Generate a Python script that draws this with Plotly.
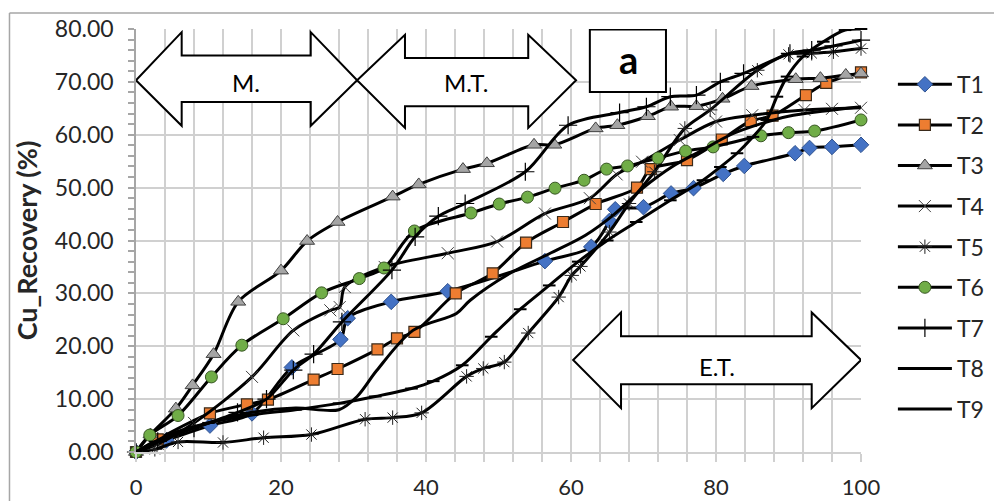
import plotly.graph_objects as go

# ---------------- data ----------------
T1_x = [0, 4.2, 10.2, 16, 21.5, 28.2, 29.2, 35.2, 43, 56.4, 62.8, 65.3, 66.1, 70, 73.8, 76.9, 81, 83.9, 90.9, 92.9, 96, 100]
T1_y = [0, 2.2, 5.0, 7.3, 16.0, 21.3, 25.3, 28.4, 30.4, 36.1, 38.8, 43.7, 45.9, 46.3, 48.9, 49.9, 52.6, 54.1, 56.5, 57.5, 57.7, 58.1]

T2_x = [0, 3, 10.2, 15.3, 18.2, 24.5, 27.8, 33.3, 36, 38.4, 44.1, 49.2, 53.8, 58.9, 63.4, 69.1, 71, 76, 80.8, 84.8, 87.8, 92.4, 95.2, 100]
T2_y = [0, 2.4, 7.3, 9.0, 9.9, 13.7, 15.7, 19.4, 21.5, 22.7, 30.0, 33.8, 39.6, 43.5, 46.9, 50.0, 53.5, 55.2, 59.1, 62.6, 63.6, 67.5, 69.8, 71.8]

T3_x = [0, 2, 5.5, 7.8, 10.7, 14.1, 20, 23.6, 27.8, 35.4, 39, 45.1, 48.4, 54.9, 57.7, 63.4, 66.4, 70.6, 73.8, 77.3, 80.9, 84.9, 91, 94.4, 97.9, 100]
T3_y = [0, 3.3, 8.2, 12.6, 18.5, 28.4, 34.3, 39.9, 43.5, 48.3, 50.6, 53.5, 54.6, 58.1, 58.1, 61.2, 61.8, 63.5, 65.3, 65.4, 66.8, 69.2, 70.5, 70.7, 71.3, 71.6]

T4_x = [0, 3, 8, 16, 21.7, 26.8, 28.1, 28.8, 34.3, 43, 49.8, 56.4, 62.6, 66.3, 69.8, 75, 80, 85, 92.2, 96, 100]
T4_y = [0, 1.5, 5.5, 14.2, 23, 26.8, 27.4, 31.2, 35, 37.6, 39.8, 45.1, 48, 52.5, 54.9, 59, 62.5, 63.7, 64.7, 64.9, 65.1]

T5_x = [0, 2.6, 5.8, 12, 17.6, 24.2, 31.6, 35.4, 39.4, 45.6, 47.9, 50.8, 54.1, 58.3, 60.1, 61.3, 65.3, 68, 71.5, 75.7, 79.2, 85.7, 90, 93.2, 96.2, 100]
T5_y = [0, 0.5, 1.9, 1.8, 2.7, 3.3, 6.2, 6.5, 7.4, 14.3, 15.8, 17, 22.5, 29.3, 33.4, 35.1, 41.6, 47, 53, 61.2, 64.7, 72.2, 75.2, 75.4, 75.7, 76.3]

T6_x = [0, 1.9, 5.8, 10.4, 14.6, 20.3, 25.6, 30.8, 34.2, 38.4, 46.2, 50.1, 54, 57.8, 61.8, 64.9, 67.8, 72, 75.8, 79.6, 86.2, 90, 93.6, 100]
T6_y = [0, 3.2, 6.9, 14.2, 20.2, 25.2, 30.1, 32.8, 34.8, 41.8, 45.2, 46.9, 48.2, 49.9, 51.4, 53.5, 54.1, 55.6, 56.9, 57.7, 59.8, 60.4, 60.7, 62.8]

T7_x = [0, 3, 8, 14, 18, 21.7, 24.5, 28.4, 35.3, 38.5, 41.7, 45.4, 53.7, 59.6, 66.7, 70.4, 73.7, 77.3, 80.6, 83.8, 90.2, 93.2, 96.2, 100]
T7_y = [0, 2, 4.5, 7.5, 10, 15.5, 18.5, 24.6, 34.4, 40.7, 44.6, 47, 53, 61.8, 64.2, 65.3, 67.2, 67.5, 70, 71.6, 75.4, 76, 76.8, 77.9]

T8_x = [0, 5, 10, 16, 22, 28, 33, 38, 41, 45, 49, 53, 57, 61, 65, 69, 73.7, 78.2, 80.6, 82.9, 85.1, 87, 88.4, 89.8, 92, 94.8, 97.8, 100]
T8_y = [0, 3.5, 5.5, 7, 8, 9.2, 10.5, 12, 13.4, 16.4, 21.8, 27, 31.5, 36, 40, 43.5, 47.6, 51.4, 53.9, 56.5, 59.6, 62.8, 67.2, 71, 74.8, 77.6, 79.8, 80]

T9_x = [0, 4, 10, 16, 22, 28, 30.5, 33.2, 38.2, 44.2, 46.1, 51.6, 57, 62, 66, 70, 74, 78, 82, 86, 90, 95, 100]
T9_y = [0, 2.5, 5.5, 7.5, 8.3, 8.0, 10.5, 15.4, 23, 26.2, 28.7, 33.8, 37.5, 41, 45, 50, 54, 57, 60, 62, 63.5, 64.5, 65.3]

series_names = ["T1", "T2", "T3", "T4", "T5", "T6", "T7", "T8", "T9"]
x_ticks = [0, 20, 40, 60, 80, 100]
y_ticks = [0, 10, 20, 30, 40, 50, 60, 70, 80]

# ---------------- styles ----------------
FONT = "Lato, 'Liberation Sans', sans-serif"
styles = {
    "T1": dict(symbol="diamond", size=12, color="#4472C4", line=dict(color="#2F528F", width=1)),
    "T2": dict(symbol="square", size=11, color="#ED7D31", line=dict(color="#3A2A1A", width=1.2)),
    "T3": dict(symbol="triangle-up", size=13, color="#A5A5A5", line=dict(color="#404040", width=1)),
    "T4": dict(symbol="x-thin-open", size=12, color="#404040", line=dict(color="#404040", width=1)),
    "T5": dict(symbol="asterisk-open", size=12, color="#202020", line=dict(color="#202020", width=1)),
    "T6": dict(symbol="circle", size=12, color="#70AD47", line=dict(color="#385723", width=1)),
    "T7": dict(symbol="cross-thin-open", size=13, color="#000000", line=dict(color="#000000", width=1.2)),
    "T8": dict(symbol="line-ew-open", size=9, color="#000000", line=dict(color="#000000", width=2)),
    "T9": None,
}

data = {
    "T1": (T1_x, T1_y), "T2": (T2_x, T2_y), "T3": (T3_x, T3_y),
    "T4": (T4_x, T4_y), "T5": (T5_x, T5_y), "T6": (T6_x, T6_y),
    "T7": (T7_x, T7_y), "T8": (T8_x, T8_y), "T9": (T9_x, T9_y),
}

fig = go.Figure()
for name in series_names:
    xs, ys = data[name]
    m = styles[name]
    fig.add_trace(go.Scatter(
        x=xs, y=ys, name=name, legendgroup=name,
        mode="lines+markers" if m else "lines",
        line=dict(color="black", width=3, shape="spline", smoothing=0.9),
        marker=m if m else None,
        cliponaxis=False,
    ))

# ---------------- region arrows ----------------
def dbl_arrow(x0, x1, xb0, xb1, yc, shaft_top, shaft_bot, head_top, head_bot):
    return (f"M {x0},{yc} L {xb0},{head_top} L {xb0},{shaft_top} L {xb1},{shaft_top} "
            f"L {xb1},{head_top} L {x1},{yc} L {xb1},{head_bot} L {xb1},{shaft_bot} "
            f"L {xb0},{shaft_bot} L {xb0},{head_bot} Z")

arrow_style = dict(type="path", xref="x", yref="y", fillcolor="white",
                   line=dict(color="black", width=2), layer="above")
shapes = [
    dict(path=dbl_arrow(0, 30.5, 6.3, 24.1, 70.3, 75.0, 66.2, 79.4, 61.7), **arrow_style),
    dict(path=dbl_arrow(30.5, 60.7, 37.1, 54.1, 70.3, 74.5, 65.4, 78.9, 61.3), **arrow_style),
    dict(path=dbl_arrow(60.3, 100, 66.9, 93.2, 17.4, 21.9, 12.8, 26.4, 8.3), **arrow_style),
    dict(type="rect", xref="x", yref="y", x0=62.6, x1=73.1, y0=68.1, y1=79.9,
         fillcolor="white", line=dict(color="black", width=2), layer="above"),
    # outer chart border (top and left)
    dict(type="line", xref="paper", yref="paper", x0=-0.1745, x1=1.25, y0=1.0378, y1=1.0378,
         line=dict(color="#A6A6A6", width=1.5)),
    dict(type="line", xref="paper", yref="paper", x0=-0.1745, x1=-0.1745, y0=-0.2, y1=1.0378,
         line=dict(color="#A6A6A6", width=1.5)),
]

annotations = [
    dict(x=15.2, y=69.8, text="M.", showarrow=False, font=dict(family=FONT, size=24, color="black")),
    dict(x=45.5, y=69.8, text="M.T.", showarrow=False, font=dict(family=FONT, size=24, color="black")),
    dict(x=80.1, y=16.2, text="E.T.", showarrow=False, font=dict(family=FONT, size=24, color="black")),
    dict(x=67.9, y=74.3, text="<b>a</b>", showarrow=False, font=dict(family=FONT, size=38, color="black")),
]

grid_color = "#D0D0D0"
# the page body adds an 8px offset, so the figure is 8px smaller and margins compensate
fig.update_layout(
    width=994, height=493,
    margin=dict(l=128, r=141, t=21, b=49, autoexpand=False),
    paper_bgcolor="white", plot_bgcolor="white",
    font=dict(family=FONT, color="#262626"),
    shapes=shapes, annotations=annotations,
    showlegend=True,
    legend=dict(x=1.044, y=0.92, xanchor="left", yanchor="top",
                font=dict(family=FONT, size=23, color="#262626"),
                itemwidth=54, tracegroupgap=7.7, bgcolor="rgba(0,0,0,0)"),
    xaxis=dict(range=[0, 100], tickvals=x_ticks, ticktext=[str(v) for v in x_ticks],
               automargin=False,
               showgrid=True, gridcolor=grid_color, gridwidth=1.5,
               ticks="outside", ticklen=8, tickcolor=grid_color, tickwidth=1.5,
               showline=True, linecolor=grid_color, linewidth=1.5,
               minor=dict(dtick=4, showgrid=True, gridcolor=grid_color, gridwidth=1.5,
                          ticks="outside", ticklen=8, tickcolor=grid_color),
               tickfont=dict(family=FONT, size=22, color="#262626"),
               ticklabelstandoff=7, zeroline=False),
    yaxis=dict(range=[0, 80], tickvals=y_ticks, ticktext=[f"{v:.2f}" for v in y_ticks],
               automargin=False,
               showgrid=True, gridcolor=grid_color, gridwidth=1.5,
               ticks="outside", ticklen=6, tickcolor="#A6A6A6", tickwidth=1.5,
               showline=True, linecolor="#A6A6A6", linewidth=1.5,
               minor=dict(dtick=2, showgrid=False, ticks="outside", ticklen=6, tickcolor="#A6A6A6"),
               tickfont=dict(family=FONT, size=23, color="#262626"),
               ticklabelstandoff=10, zeroline=False,
               title=dict(text="<b>Cu_Recovery (%)</b>", standoff=9,
                          font=dict(family=FONT, size=27, color="#262626"))),
)

fig.write_html("out.html")
